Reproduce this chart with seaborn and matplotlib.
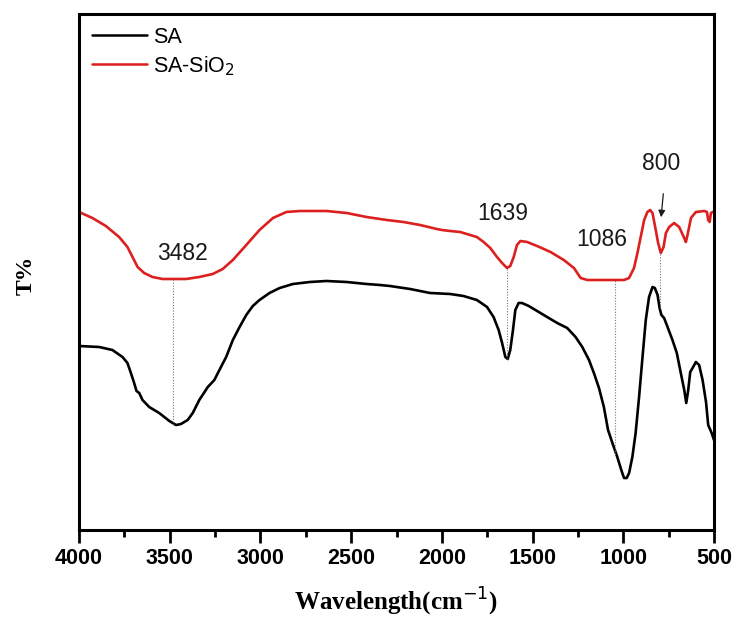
import numpy as np
import pandas as pd
import matplotlib
matplotlib.use("Agg")
import matplotlib.pyplot as plt
import seaborn as sns

# ---- data (arbitrary transmittance units) ----
sa_wn = [4000, 3889, 3816, 3760, 3733, 3714, 3696, 3683, 3668, 3650, 3613, 3558,
         3502, 3465, 3438, 3401, 3373, 3337, 3290, 3254, 3226, 3189, 3152, 3115,
         3078, 3042, 3005, 2950, 2894, 2821, 2728, 2636, 2525, 2415, 2341, 2286,
         2175, 2065, 1954, 1881, 1807, 1751, 1715, 1687, 1668, 1650, 1637, 1623,
         1608, 1595, 1577, 1558, 1521, 1475, 1420, 1364, 1309, 1263, 1226, 1189,
         1162, 1134, 1107, 1084, 1060, 1033, 1011, 996, 981, 968, 950, 932, 913,
         894, 876, 858, 839, 826, 811, 800, 790, 775, 756, 729, 705, 683, 664,
         653, 642, 631, 618, 600, 582, 563, 544, 532, 513, 500]
sa_t = [202, 201, 198, 191, 185, 175, 165, 157, 155, 148, 141, 135,
        127, 123, 124, 128, 135, 148, 161, 168, 178, 191, 208, 221,
        233, 242, 248, 255, 260, 264, 266, 267, 266, 264, 263, 262,
        259, 255, 254, 252, 248, 241, 231, 218, 205, 191, 189, 198,
        218, 238, 245, 245, 242, 237, 231, 225, 220, 211, 201, 188,
        175, 160, 141, 118, 105, 91, 78, 70, 70, 75, 91, 115, 151,
        191, 228, 251, 261, 260, 253, 240, 233, 230, 221, 208, 195, 175, 158,
        145, 158, 176, 180, 186, 183, 168, 146, 123, 115, 108]

sasi_wn = [4000, 3926, 3852, 3779, 3733, 3705, 3677, 3641, 3595, 3539, 3475, 3410,
           3337, 3263, 3208, 3152, 3078, 3005, 2931, 2857, 2784, 2636, 2525, 2415,
           2341, 2304, 2212, 2120, 2028, 2000, 1954, 1899, 1844, 1807, 1770, 1733,
           1696, 1668, 1641, 1623, 1604, 1586, 1567, 1530, 1475, 1401, 1328, 1272,
           1235, 1198, 1107, 996, 968, 941, 922, 904, 885, 867, 852, 839, 821,
           808, 793, 778, 765, 747, 720, 692, 664, 655, 646, 627, 600, 554,
           539, 532, 524, 517, 507, 500]
sasi_t = [336, 330, 322, 311, 301, 291, 281, 275, 271, 269, 269, 269,
          271, 274, 279, 288, 303, 318, 330, 336, 337, 337, 335, 331,
          329, 328, 326, 323, 319, 318, 317, 316, 313, 311, 306, 300,
          291, 285, 280, 282, 291, 303, 307, 306, 302, 296, 288, 280,
          270, 268, 268, 268, 270, 280, 295, 311, 328, 336, 338, 335, 318,
          305, 295, 301, 315, 321, 325, 321, 310, 306, 313, 330, 336, 337,
          336, 328, 326, 335, 336, 336]

series_names = ["SA", "SA-SiO$_2$"]
peak_labels = ["3482", "1639", "1086", "800"]
x_ticks = [4000, 3500, 3000, 2500, 2000, 1500, 1000, 500]

df = pd.concat([
    pd.DataFrame({"wn": sa_wn, "T": sa_t, "sample": series_names[0]}),
    pd.DataFrame({"wn": sasi_wn, "T": sasi_t, "sample": series_names[1]}),
], ignore_index=True)

sns.set_style("ticks", {"axes.edgecolor": "black", "xtick.color": "black",
                        "text.color": "black", "axes.labelcolor": "black"})
plt.rcParams["font.family"] = ["Liberation Sans", "DejaVu Sans"]

fig = plt.figure(figsize=(7.37, 6.25), dpi=100)
ax = fig.add_axes([79 / 737, 1 - 530 / 625, (714 - 79) / 737, (530 - 14) / 625])

sns.lineplot(data=df, x="wn", y="T", hue="sample", sort=False,
             palette={series_names[0]: "black", series_names[1]: "#dc1f1f"},
             linewidth=1.9, ax=ax, estimator=None)

ax.set_xlim(4000, 500)
ax.set_ylim(18, 534)
ax.set_xticks(x_ticks)
ax.set_xticks([3750, 3250, 2750, 2250, 1750, 1250, 750], minor=True)
ax.set_yticks([])
for lab in ax.get_xticklabels():
    lab.set_fontweight("bold")
    lab.set_fontsize(15.5)
    lab.set_color("black")
ax.tick_params(axis="x", which="major", direction="out", length=9, width=2,
               pad=4, colors="black")
ax.tick_params(axis="x", which="minor", direction="out", length=5, width=2,
               colors="black")
for s in ax.spines.values():
    s.set_linewidth(2.2)
    s.set_color("black")
    s.set_visible(True)

ax.set_xlabel("Wavelength(cm$^{-1}$)", fontsize=18, fontweight="bold",
              family="Liberation Serif", labelpad=12, color="black")
ax.set_ylabel("T%", fontsize=17, fontweight="bold", family="Liberation Serif",
              color="black")
ax.yaxis.set_label_coords(-0.066, 0.494)

# peak markers: dotted guides between the two spectra
guides = [(3482, 268, 123), (1639, 280, 189), (1045, 268, 94), (800, 295, 240)]
for wn, top, bot in guides:
    ax.plot([wn, wn], [bot, top], linestyle=(0, (1, 1.5)), color="#777777", lw=0.8)

tc = "#1a1a1a"
ax.text(3430, 295, peak_labels[0], fontsize=16.5, ha="center", va="center", color=tc)
ax.text(1665, 335, peak_labels[1], fontsize=16.5, ha="center", va="center", color=tc)
ax.text(1118, 308, peak_labels[2], fontsize=16.5, ha="center", va="center", color=tc)
ax.text(790, 385, peak_labels[3], fontsize=16.5, ha="center", va="center", color=tc)
ax.annotate("", xy=(793, 328), xytext=(778, 357),
            arrowprops=dict(arrowstyle="-|>", color=tc, lw=0.9,
                            mutation_scale=10))

leg = ax.legend(loc="upper left", frameon=False, fontsize=15.5,
                handlelength=2.55, handletextpad=0.3, labelspacing=0.28,
                borderaxespad=0.2, bbox_to_anchor=(0.0, 1.0))
for line in leg.get_lines():
    line.set_linewidth(1.8)

fig.savefig("out.png", dpi=100)
